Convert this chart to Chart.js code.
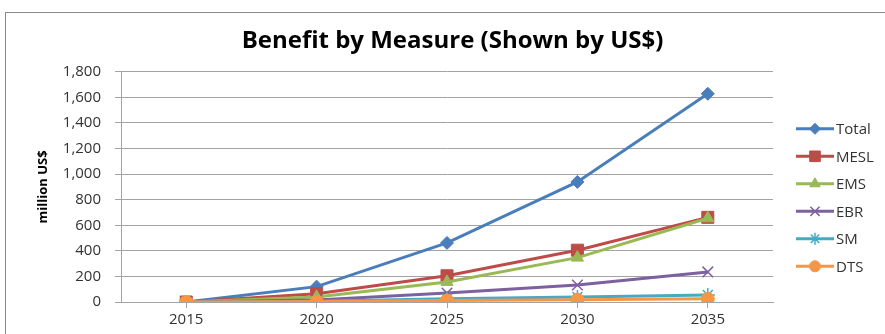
<!DOCTYPE html>
<html>
<head>
<meta charset="utf-8">
<script src="https://cdn.jsdelivr.net/npm/chart.js@4/dist/chart.umd.min.js"></script>
<style>
  body { margin: 0; background: #fff; }
  canvas { display: block; }
</style>
</head>
<body>
<canvas id="chart" width="885" height="334"></canvas>
<script>
// datos
const years = ["2015", "2020", "2025", "2030", "2035"];
const total = [0, 120, 462, 939, 1628];
const mesl = [0, 65, 205, 405, 662];
const ems = [0, 40, 157, 347, 655];
const ebr = [0, 15, 70, 133, 235];
const sm = [0, 6, 25, 40, 55];
const dts = [0, 3, 12, 18, 25];

const series = [
  { label: "Total", data: total, color: "#4A7EBB", marker: "rectRot", r: 6.5 },
  { label: "MESL", data: mesl, color: "#BE4B48", marker: "rect", r: 8.5 },
  { label: "EMS", data: ems, color: "#98B954", marker: "triangle", r: 7 },
  { label: "EBR", data: ebr, color: "#7D60A0", marker: "crossRot", r: 7.5 },
  { label: "SM", data: sm, color: "#46AAC5", marker: "star", r: 7 },
  { label: "DTS", data: dts, color: "#F79646", marker: "circle", r: 6.5 }
];

const FONT = "'Open Sans', Lato, sans-serif";
const GRID = "#a3a3a3";

// caja a la derecha para la leyenda
const sideLegend = {
  id: "sideLegend",
  beforeInit(chart) {
    const box = {
      position: "right", weight: 0, fullSize: false, options: {},
      isHorizontal() { return false; },
      update(maxW, maxH) { this.width = 112; this.height = maxH; },
      draw() {}
    };
    Chart.layouts.addBox(chart, box);
  },
  beforeDraw(chart) {
    const c = chart.ctx;
    c.save();
    c.fillStyle = "#fff";
    c.fillRect(0, 0, chart.width, chart.height);
    c.strokeStyle = "#8c8c8c";
    c.lineWidth = 1;
    c.strokeRect(5.5, 12.5, 900, 400);
    c.restore();
  },
  afterDraw(chart) {
    const c = chart.ctx;
    const x0 = chart.chartArea.right + 23;
    c.save();
    chart.data.datasets.forEach((ds, i) => {
      const y = chart.chartArea.top + 57 + i * 27.5;
      c.strokeStyle = ds.borderColor;
      c.fillStyle = ds.borderColor;
      c.lineWidth = 3;
      c.beginPath();
      c.moveTo(x0, y);
      c.lineTo(x0 + 38, y);
      c.stroke();
      c.lineWidth = ds.pointBorderWidth;
      Chart.helpers.drawPoint(c, { pointStyle: ds.pointStyle, radius: ds.pointRadius - 1, borderWidth: ds.pointBorderWidth, rotation: 0 }, x0 + 19, y);
      c.fillStyle = "#333";
      c.font = "15px " + FONT;
      c.textBaseline = "middle";
      c.fillText(ds.label, x0 + 40, y + 1);
    });
    c.restore();
  }
};

new Chart(document.getElementById("chart"), {
  type: "line",
  data: {
    labels: years,
    datasets: series.map((s, i) => ({
      label: s.label,
      data: s.data,
      borderColor: s.color,
      backgroundColor: s.color,
      borderWidth: 3,
      pointStyle: s.marker,
      pointRadius: s.r,
      pointBorderWidth: s.marker === "crossRot" || s.marker === "star" ? 1.5 : 1,
      tension: 0,
      order: series.length - i
    }))
  },
  options: {
    responsive: false,
    animation: false,
    layout: { padding: { left: 20, right: 0, top: 0, bottom: 0 } },
    plugins: {
      legend: { display: false },
      tooltip: { enabled: false },
      title: {
        display: true,
        text: "Benefit by Measure (Shown by US$)",
        color: "#000",
        font: { family: FONT, size: 24, weight: "bold" },
        padding: { top: 27, bottom: 16 }
      }
    },
    scales: {
      x: {
        offset: true,
        grid: { drawOnChartArea: false, color: GRID, tickLength: 6 },
        border: { color: GRID },
        ticks: { color: "#333", font: { family: FONT, size: 15 }, padding: 3 },
        afterFit(scale) { scale.height = 32; }
      },
      y: {
        min: 0,
        max: 1800,
        ticks: { stepSize: 200, color: "#333", font: { family: FONT, size: 15 }, padding: 14 },
        grid: { color: GRID, tickLength: 6 },
        border: { color: GRID },
        title: {
          display: true,
          text: "million US$",
          color: "#000",
          font: { family: FONT, size: 13, weight: "bold" },
          padding: { top: 15, bottom: 0 }
        },
        afterFit(scale) { scale.width = 101; }
      }
    }
  },
  plugins: [sideLegend]
});
</script>
</body>
</html>
